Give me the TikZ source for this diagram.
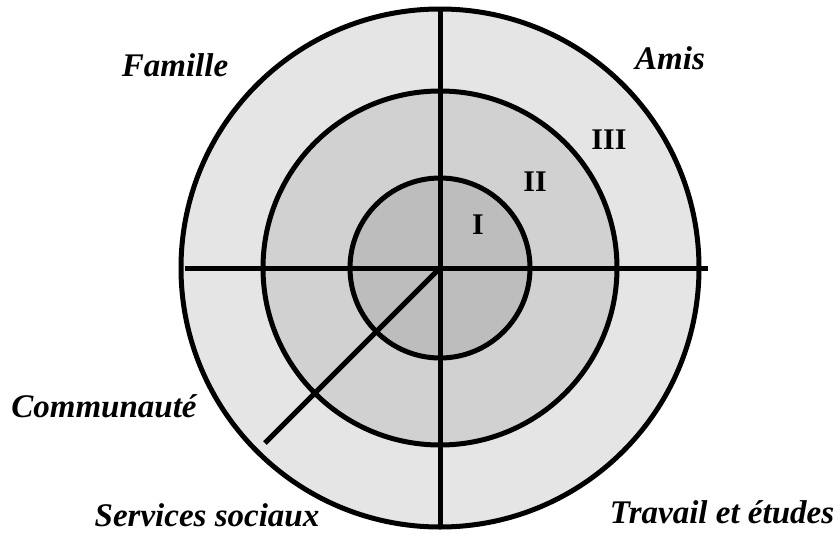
\documentclass[tikz,border=0pt]{standalone}
\usepackage{fontspec}
\setmainfont{Liberation Serif}
\definecolor{ringout}{gray}{0.90}
\definecolor{ringmid}{gray}{0.82}
\definecolor{ringin}{gray}{0.74}
\begin{document}
\begin{tikzpicture}[x=1pt,y=-1pt,
  ring/.style={draw=black,line width=5pt},
  axis/.style={draw=black,line width=5pt},
  lbl/.style={font=\fontsize{33}{38}\selectfont\bfseries\itshape,inner sep=0pt},
  num/.style={font=\fontsize{30}{34}\selectfont\bfseries,inner sep=0pt}]
\useasboundingbox (0,0) rectangle (838,533);
\coordinate (c) at (440,268);
\fill[ringout] (c) circle (259);
\fill[ringmid] (c) circle (177);
\fill[ringin] (c) circle (90);
\draw[ring] (c) circle (259);
\draw[ring] (c) circle (177);
\draw[ring] (c) circle (90);
\coordinate (l) at (185,268);
\coordinate (r) at (708,268);
\coordinate (t) at (440,8);
\coordinate (b) at (440,528);
\coordinate (d) at (265,443);
\draw[axis] (l) -- (r);
\draw[axis] (t) -- (b);
\draw[axis] (c) -- (d);
\node[lbl] (fam) at (175,65) {Famille};
\node[lbl] (ami) at (670,58) {Amis};
\node[lbl] (com) at (104,406) {Communauté};
\node[lbl] (ser) at (207,515) {Services sociaux};
\node[lbl] (tra) at (722,512) {Travail et études};
\node[num] (n3) at (609,140) {III};
\node[num] (n2) at (535,182) {II};
\node[num] (n1) at (478,225) {I};
\end{tikzpicture}
\end{document}
